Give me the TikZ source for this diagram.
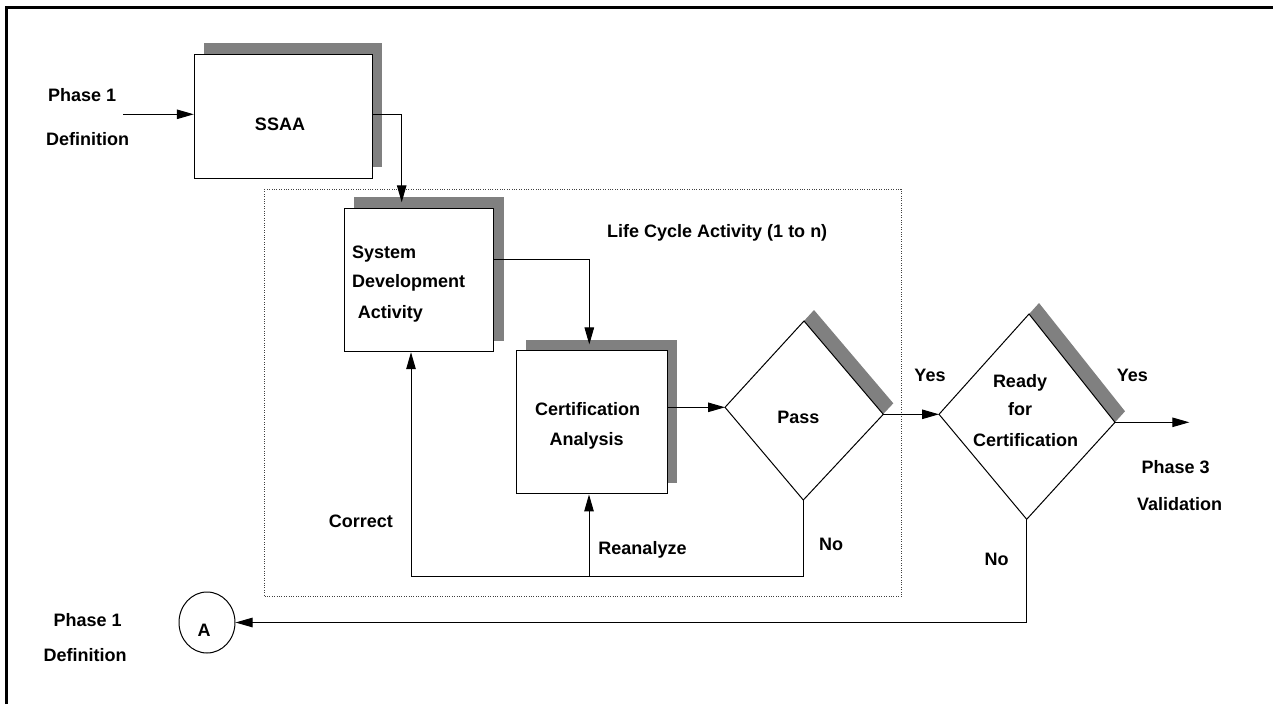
\documentclass[tikz,border=0pt]{standalone}
\usepackage{fontspec}
\setmainfont{Liberation Sans}
\usetikzlibrary{arrows.meta,shadows,shapes.geometric}
\definecolor{shadowgray}{HTML}{808080}
\begin{document}
\begin{tikzpicture}[x=1pt,y=-1pt,
  line width=1pt,
  lbl/.style={inner sep=0pt, anchor=base, font=\fontsize{18}{22}\selectfont\bfseries},
  lblw/.style={lbl, anchor=base west},
  stepbox/.style={draw, fill=white, inner sep=0pt,
    drop shadow={shadow xshift=10pt, shadow yshift=11pt, fill=shadowgray, opacity=1}},
  decision/.style={draw, fill=white, line join=miter},
  decshadow/.style={fill=shadowgray},
  flow/.style={-{Triangle[length=17pt,width=9.5pt]}},
  connector/.style={draw, ellipse, fill=white, inner sep=0pt, minimum width=56pt, minimum height=61pt},
]
\useasboundingbox (0,0) rectangle (1273,704);

% page frame (top and left rules)
\draw[line width=2.4pt, line join=miter] (6.5,704) -- (6.5,7.5) -- (1273,7.5);

% life cycle area
\draw[line width=0.8pt, dash pattern=on 0.8pt off 1.6pt, black!75] (264.3,189) rectangle (901,596.7);

% process boxes
\node[stepbox, minimum width=178pt, minimum height=123.7pt] (ssaa) at (283.3,116.2) {};
\node[stepbox, minimum width=149.4pt, minimum height=143.4pt] (sda) at (419,280) {};
\node[stepbox, minimum width=151.3pt, minimum height=143.3pt] (ca) at (591.7,422.3) {};

% decision: Pass
\coordinate (passW) at (725,407.3);
\coordinate (passN) at (804,321);
\coordinate (passE) at (883.3,414.3);
\coordinate (passS) at (803.3,500);
\fill[decshadow] ([shift={(10,-11)}]passW) -- ([shift={(10,-11)}]passN) -- ([shift={(10,-11)}]passE) -- ([shift={(10,-11)}]passS) -- cycle;
\filldraw[decision] (passW) -- (passN) -- (passE) -- (passS) -- cycle;

% decision: Ready for Certification
\coordinate (readyW) at (939,414.3);
\coordinate (readyN) at (1029,314);
\coordinate (readyE) at (1115,422.3);
\coordinate (readyS) at (1026.7,519.3);
\fill[decshadow] ([shift={(10,-11)}]readyW) -- ([shift={(10,-11)}]readyN) -- ([shift={(10,-11)}]readyE) -- ([shift={(10,-11)}]readyS) -- cycle;
\filldraw[decision] (readyW) -- (readyN) -- (readyE) -- (readyS) -- cycle;

% off-page connector
\node[connector] (a) at (207,622.5) {};

% labels
\node[lbl] (ph1a) at (82.2,101) {Phase 1};
\node[lbl] (def1a) at (87.5,145.7) {Definition};
\node[lbl] (ssaaT) at (280,130) {SSAA};
\node[lblw] (lc) at (606.7,237.3) {Life Cycle Activity (1 to n)};
\node[lblw] (sdaT1) at (351.7,258.3) {System};
\node[lblw] (sdaT2) at (351.7,287.7) {Development};
\node[lblw] (sdaT3) at (357.3,318.3) {Activity};
\node[lbl] (caT1) at (587.7,415) {Certification};
\node[lbl] (caT2) at (586.7,445) {Analysis};
\node[lbl] (passT) at (798.3,423.3) {Pass};
\node[lbl] (yes1) at (930,381.7) {Yes};
\node[lbl] (yes2) at (1132.3,381.7) {Yes};
\node[lbl] (rdT1) at (1020,387.3) {Ready};
\node[lbl] (rdT2) at (1020,415.7) {for};
\node[lbl] (rdT3) at (1025.5,446.7) {Certification};
\node[lbl] (ph3) at (1175.7,473.7) {Phase 3};
\node[lbl] (val) at (1179.5,510) {Validation};
\node[lbl] (no1) at (831.2,550) {No};
\node[lbl] (rean) at (642.5,554.3) {Reanalyze};
\node[lbl] (corr) at (360.8,527.3) {Correct};
\node[lbl] (no2) at (996.7,565.3) {No};
\node[lbl] (aT) at (204,636) {A};
\node[lbl] (ph1b) at (87.7,626.7) {Phase 1};
\node[lbl] (def1b) at (85,661.7) {Definition};

% connectors
\coordinate (p1in) at (123,114.3);
\coordinate (out) at (1189.3,422.3);
\coordinate (loopy) at (0,576.7);
\draw[flow] (p1in) -- (p1in -| ssaa.west);
\draw[flow] (ssaa.east |- p1in) -| ([xshift=-17.3pt,yshift=5.5pt]sda.north);
\draw[flow] ([yshift=20.7pt]sda.east) -| ([xshift=-2.4pt,yshift=5.7pt]ca.north);
\draw[flow] (ca.east |- passW) -- (passW);
\draw[flow] (passE) -- (readyW);
\draw[flow] (readyE) -- (out);
\draw[flow] (passS) |- ([xshift=-8pt]sda.south |- loopy) -- ([xshift=-8pt]sda.south);
\draw[flow] ([xshift=-2.7pt]ca.south |- loopy) -- ([xshift=-2.7pt]ca.south);
\draw[flow] (readyS) |- (a.east);
\end{tikzpicture}
\end{document}
